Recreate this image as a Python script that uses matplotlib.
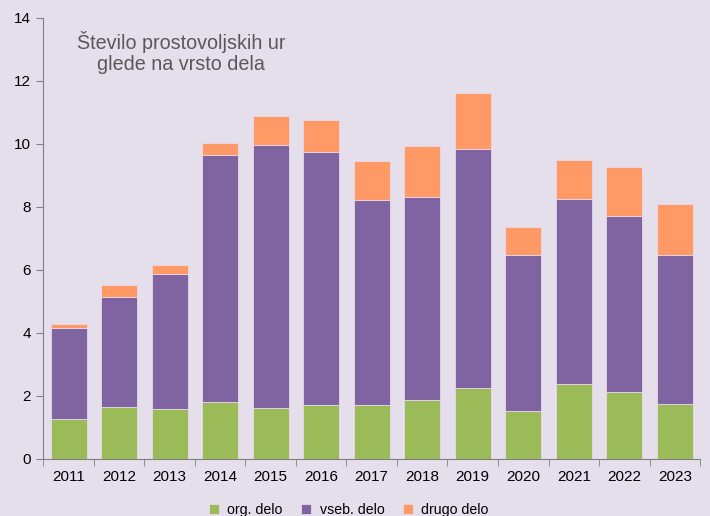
import numpy as np
import matplotlib
matplotlib.use('Agg')
from matplotlib import pyplot as plt
from matplotlib.ticker import FixedLocator

plt.rcParams['font.family'] = ['Liberation Sans', 'DejaVu Sans']

YEARS = ['2011', '2012', '2013', '2014', '2015', '2016', '2017',
         '2018', '2019', '2020', '2021', '2022', '2023']
ORG = [1.26, 1.65, 1.58, 1.81, 1.62, 1.72, 1.70, 1.85, 2.24, 1.50, 2.36, 2.13, 1.73]
VSEB = [2.89, 3.47, 4.28, 7.84, 8.34, 8.01, 6.50, 6.47, 7.60, 4.95, 5.88, 5.57, 4.72]
DRUGO = [0.12, 0.40, 0.28, 0.38, 0.93, 1.01, 1.25, 1.60, 1.75, 0.89, 1.24, 1.55, 1.64]
SERIES = ['org. delo', 'vseb. delo', 'drugo delo']
COLORS = ['#9BBB59', '#8064A2', '#FF9966']
BG = '#E5DFEC'

fig = plt.figure(figsize=(7.1, 5.16), dpi=100, facecolor=BG)
ax = fig.add_axes([0.061, 0.111, 0.925, 0.855], facecolor=BG)

x = np.arange(len(YEARS))
bottom = np.zeros(len(YEARS))
for name, vals, col in zip(SERIES, [ORG, VSEB, DRUGO], COLORS):
    ax.bar(x, vals, width=0.71, bottom=bottom, color=col, label=name,
           edgecolor='#E8D8E8', linewidth=0.6)
    bottom += np.array(vals)

ax.set_xlim(-0.5, len(YEARS) - 0.5)
ax.set_ylim(0, 14)
ax.set_yticks(range(0, 15, 2))
ax.set_xticks(x)
ax.set_xticklabels(YEARS)
ax.xaxis.set_minor_locator(FixedLocator(np.arange(-0.5, len(YEARS), 1.0)))
ax.tick_params(axis='x', which='major', length=0, labelsize=11, pad=8)
ax.tick_params(axis='x', which='minor', length=5, color='#808080')
ax.tick_params(axis='y', length=5, color='#808080', labelsize=11, pad=4)

for s in ['top', 'right']:
    ax.spines[s].set_visible(False)
for s in ['left', 'bottom']:
    ax.spines[s].set_color('#808080')

ax.text(0.21, 0.92, 'Število prostovoljskih ur\nglede na vrsto dela',
        transform=ax.transAxes, ha='center', va='center',
        fontsize=14.2, color='#595959', linespacing=1.15)

ax.legend(loc='lower center', bbox_to_anchor=(0.465, -0.16), ncol=3,
          frameon=False, fontsize=10.2, handlelength=0.7, handleheight=0.7,
          columnspacing=1.3, handletextpad=0.6)

fig.savefig('out.png', dpi=100, facecolor=BG)
